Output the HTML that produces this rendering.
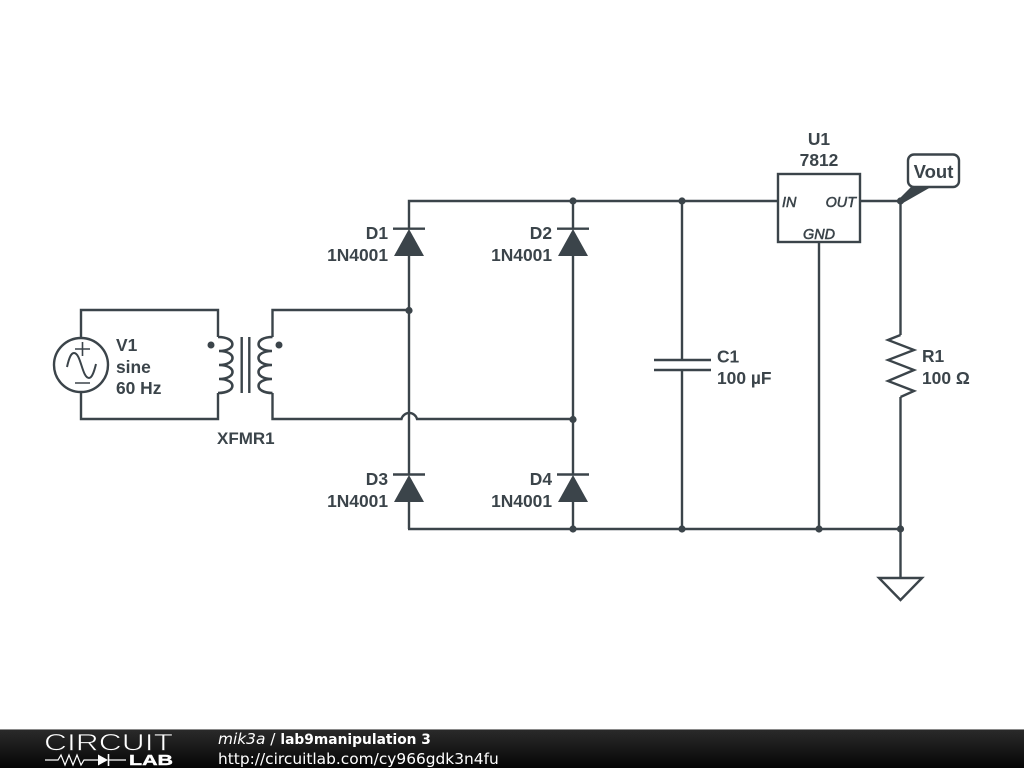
<!DOCTYPE html>
<html>
<head>
<meta charset="utf-8">
<style>
html,body{margin:0;padding:0;background:#fff;width:1024px;height:768px;overflow:hidden}
svg{display:block}
.l{font-family:"Liberation Sans",sans-serif;font-weight:bold;font-size:17.4px;fill:#3b444a}
.p{font-family:"Liberation Sans",sans-serif;font-style:italic;font-size:14.4px;fill:#3b444a;stroke:#3b444a;stroke-width:.55}
.f{font-family:"DejaVu Sans",sans-serif;font-size:15.4px;fill:#fff}
</style>
</head>
<body>
<svg width="1024" height="768" viewBox="0 0 1024 768" xmlns="http://www.w3.org/2000/svg">
<defs>
<linearGradient id="g" x1="0" y1="0" x2="0" y2="1"><stop offset="0" stop-color="#2b2b2b"/><stop offset="1" stop-color="#050505"/></linearGradient>
</defs>
<rect width="1024" height="768" fill="#fff"/>
<g fill="none" stroke="#3b444a" stroke-width="2.400">
<!-- primary -->
<path d="M81 338V310H218V337M218 393V419H81V392"/>
<circle cx="81" cy="365" r="27"/>
<path d="M67 367C69 358 71 353 74 353C81 353 82 378 89 378C92 378 94 372 96 364" stroke-width="2"/>
<path d="M75 349H90M82.500 342V356M75 383H90" stroke-width="1.600"/>
<!-- coils -->
<path d="M218 337C237 337 237 351 219 351C237 351 237 365 219 365C237 365 237 379 219 379C237 379 237 393 218 393" stroke-width="2.600"/>
<path d="M272.500 337C254 337 254 351 272 351C254 351 254 365 272 365C254 365 254 379 272 379C254 379 254 393 272.500 393" stroke-width="2.600"/>
<path d="M241.700 337V393M249.300 337V393"/>
<!-- secondary -->
<path d="M272.500 337V310H409M272.500 393V419H401.500A8 8 0 0 1 417 419H573"/>
<!-- bridge -->
<path d="M409 529V502M409 474V256M409 229V201H778"/>
<path d="M573 201V229M573 256V474M573 502V529"/>
<path d="M408 529H900"/>
<path d="M393 228.700H425M557 228.700H589M393 474.500H425M557 474.500H589"/>
<!-- cap -->
<path d="M682 201V360M682 370V529M654 360H711M654 370H711"/>
<!-- IC -->
<rect x="778" y="174" width="82" height="68"/>
<path d="M819 242V529M860 201H900M900.500 201V335M900.500 397V578"/>
<!-- resistor -->
<path d="M900.500 335L888 340L914 350L888 360L914 370L888 381L914 391L900.500 397" stroke-linejoin="miter"/>
<!-- ground -->
<path d="M879 578H922L900.500 600Z"/>
<!-- Vout -->
<rect x="908" y="154.500" width="51" height="32.500" rx="6" ry="6"/>
</g>
<g fill="#3b444a">
<path d="M409 229L424 256H394Z"/>
<path d="M573 229L588 256H558Z"/>
<path d="M409 475L424 502H394Z"/>
<path d="M573 475L588 502H558Z"/>
<path d="M899 199L911 187H931L903 203Z"/>
<circle cx="211" cy="345" r="3.500"/>
<circle cx="279" cy="345" r="3.500"/>
<circle cx="409" cy="310.500" r="3.600"/>
<circle cx="573" cy="201" r="3.600"/>
<circle cx="682" cy="201" r="3.600"/>
<circle cx="900.500" cy="201" r="3.600"/>
<circle cx="573" cy="419.500" r="3.600"/>
<circle cx="573" cy="529" r="3.600"/>
<circle cx="682" cy="529" r="3.600"/>
<circle cx="819" cy="529" r="3.600"/>
<circle cx="900.500" cy="529" r="3.600"/>
</g>
<!-- labels -->
<text class="l" x="116" y="351">V1</text>
<text class="l" x="116" y="373">sine</text>
<text class="l" x="116" y="394">60 Hz</text>
<text class="l" x="217" y="444" style="font-size:17px">XFMR1</text>
<text class="l" x="388" y="239" text-anchor="end">D1</text>
<text class="l" x="388" y="261" text-anchor="end">1N4001</text>
<text class="l" x="552" y="239" text-anchor="end">D2</text>
<text class="l" x="552" y="261" text-anchor="end">1N4001</text>
<text class="l" x="388" y="485" text-anchor="end">D3</text>
<text class="l" x="388" y="507" text-anchor="end">1N4001</text>
<text class="l" x="552" y="485" text-anchor="end">D4</text>
<text class="l" x="552" y="507" text-anchor="end">1N4001</text>
<text class="l" x="717" y="362.500">C1</text>
<text class="l" x="717" y="384">100 µF</text>
<text class="l" x="922" y="362">R1</text>
<text class="l" x="922" y="384">100 Ω</text>
<text class="l" x="819" y="145" text-anchor="middle">U1</text>
<text class="l" x="819" y="166" text-anchor="middle">7812</text>
<text class="l" x="933.500" y="178" text-anchor="middle" style="font-size:18.500px">Vout</text>
<text class="p" x="782" y="207">IN</text>
<text class="p" x="856" y="207" text-anchor="end">OUT</text>
<text class="p" x="819" y="239" text-anchor="middle">GND</text>
<!-- footer -->
<rect x="0" y="729" width="1024" height="39" fill="url(#g)"/>
<rect x="0" y="729" width="1024" height="1" fill="#8a8a8a"/>
<text x="44" y="750.500" font-family="Liberation Sans,sans-serif" font-size="24" fill="#fff" stroke="#222" stroke-width=".7" textLength="129" lengthAdjust="spacingAndGlyphs">CIRCUIT</text>
<text x="129" y="765" font-family="Liberation Sans,sans-serif" font-size="15" font-weight="bold" fill="#fff" stroke="#fff" stroke-width=".4" textLength="44" lengthAdjust="spacingAndGlyphs">LAB</text>
<g fill="none" stroke="#fff" stroke-width="1.200">
<path d="M45 760H58L61 755L65 765L69 755L73 765L77 755L81 765L84 760H98M108 760H126"/>
<path d="M108.500 754V766" stroke-width="1.600"/>
</g>
<path d="M98 754.500L108 760L98 765.500Z" fill="#fff"/>
<text class="f" x="218" y="744"><tspan font-style="italic">mik3a</tspan> / <tspan font-weight="bold" style="font-size:13.800px">lab9manipulation 3</tspan></text>
<text class="f" x="218" y="764">http://circuitlab.com/cy966gdk3n4fu</text>
</svg>
</body>
</html>
